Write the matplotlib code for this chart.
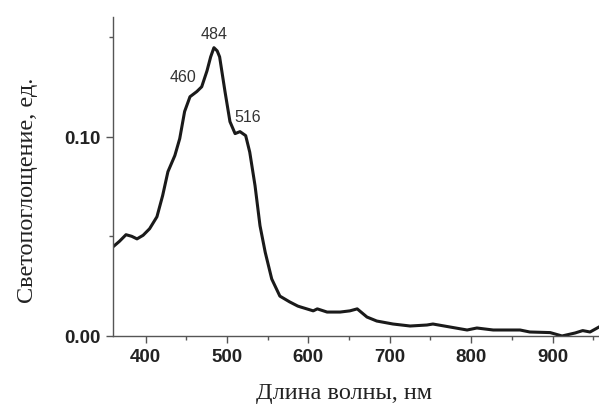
import matplotlib
matplotlib.use("Agg")
import matplotlib.pyplot as plt
from matplotlib.ticker import MultipleLocator, FixedLocator

wavelength = [360, 368, 376, 383, 389.5, 397, 405, 414, 421, 427.5, 436, 442, 448, 454.6,
              463, 469, 475.5, 480, 484, 488, 491, 497.6, 503.7, 510, 516, 523, 528,
              534.5, 540.6, 547, 555, 565, 577, 587, 590, 606, 611, 623, 639, 651, 660,
              672, 684, 704, 725, 745.6, 753, 774, 795, 807, 827, 860, 872, 897, 911.6,
              927.6, 937, 946, 957]
absorbance = [0.0447, 0.0475, 0.0508, 0.0500, 0.0487, 0.0505, 0.0538, 0.0598, 0.0704, 0.0824,
              0.0905, 0.0990, 0.1126, 0.1200, 0.1226, 0.1250, 0.1330, 0.1400, 0.1446, 0.1430,
              0.1400, 0.1226, 0.1075, 0.1015, 0.1025, 0.1005, 0.0922, 0.0754, 0.0553, 0.0420,
              0.0286, 0.0200, 0.0171, 0.0150, 0.0146, 0.0126, 0.0136, 0.0120, 0.0120, 0.0126,
              0.0136, 0.0095, 0.0075, 0.0060, 0.0050, 0.0055, 0.0060, 0.0045, 0.0030, 0.0040,
              0.0030, 0.0030, 0.0020, 0.0017, 0.0000, 0.0015, 0.0027, 0.0020, 0.0045]

peak_labels = ["460", "484", "516"]
peak_x = [446, 484, 526]
peak_y = [0.1266, 0.148, 0.1065]

x_major = [400, 500, 600, 700, 800, 900]
y_major = [0.00, 0.10]
y_major_labels = ["0.00", "0.10"]

fig = plt.figure(figsize=(5.99, 4.06), dpi=100)
ax = fig.add_axes([0.1886, 0.170, 0.8114, 0.7857])

ax.plot(wavelength, absorbance, color="#1a1a1a", lw=2.2, solid_joinstyle="round")

for t, x, y in zip(peak_labels, peak_x, peak_y):
    ax.text(x, y, t, ha="center", va="bottom", fontsize=11.5,
            family="Liberation Sans", color="#333333")

ax.set_xlim(360, 957)
ax.set_ylim(0, 0.16)

ax.xaxis.set_major_locator(FixedLocator(x_major))
ax.xaxis.set_minor_locator(MultipleLocator(50))
ax.yaxis.set_major_locator(FixedLocator(y_major))
ax.set_yticklabels(y_major_labels)
ax.yaxis.set_minor_locator(FixedLocator([0.05, 0.15]))

for s in ["top", "right"]:
    ax.spines[s].set_visible(False)
for s in ["left", "bottom"]:
    ax.spines[s].set_color("#555555")
    ax.spines[s].set_linewidth(1.0)

ax.tick_params(axis="both", which="major", length=5, width=1, color="#555555",
               labelsize=13.5, pad=4)
ax.tick_params(axis="both", which="minor", length=3, width=1, color="#555555")
for lab in ax.get_xticklabels() + ax.get_yticklabels():
    lab.set_fontfamily("Liberation Sans")
    lab.set_fontweight("bold")
    lab.set_color("#222222")

ax.set_xlabel("Длина волны, нм", family="Liberation Serif", fontsize=17.5,
              color="#222222")
ax.set_ylabel("Светопоглощение, ед.", family="Liberation Serif", fontsize=17.5,
              color="#222222")
ax.xaxis.set_label_coords(0.475, -0.145)
ax.yaxis.set_label_coords(-0.155, 0.46)

fig.savefig("out.png", dpi=100)
